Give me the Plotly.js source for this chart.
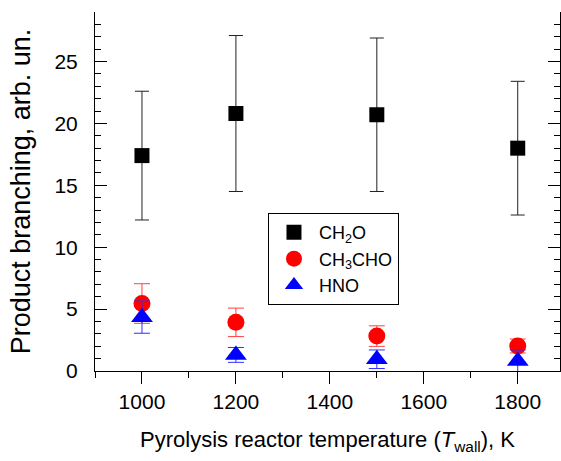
<!DOCTYPE html>
<html>
<head>
<meta charset="utf-8">
<script src="https://cdn.plot.ly/plotly-3.0.1.min.js"></script>
<style>
  html, body { margin: 0; padding: 0; background: #fff; }
  #chart { width: 561px; height: 461px; }
</style>
</head>
<body>
<div id="chart"></div>
<script>
// Data
const temperatures = [1000, 1200, 1500, 1800];

const ch2oValues   = [17.4, 20.8, 20.7, 18.0];
const ch2oErrors   = [5.2, 6.3, 6.2, 5.4];

const ch3choValues = [5.45, 3.93, 2.82, 2.02];
const ch3choErrors = [1.6, 1.15, 0.83, 0.56];

const hnoValues    = [4.35, 1.3, 0.95, 0.8];
const hnoErrors    = [1.3, 0.6, 0.75, 0.9];

const xTickValues  = [1000, 1200, 1400, 1600, 1800];
const yTickValues  = [0, 5, 10, 15, 20, 25];

const FONT = '"Liberation Sans", Arial, Helvetica, sans-serif';

const traces = [
  {
    x: temperatures, y: ch2oValues, type: 'scatter', mode: 'markers',
    name: 'CH<sub>2</sub>O', legendgroup: 'a',
    marker: { symbol: 'square', size: 15, color: '#000000' },
    error_y: { type: 'data', array: ch2oErrors, visible: true, color: '#222222', thickness: 1, width: 7 }
  },
  {
    x: temperatures, y: ch3choValues, type: 'scatter', mode: 'markers',
    name: 'CH<sub>3</sub>CHO', legendgroup: 'b',
    marker: { symbol: 'circle', size: 17, color: '#ff0000' },
    error_y: { type: 'data', array: ch3choErrors, visible: true, color: '#ff4040', thickness: 1, width: 8 }
  },
  {
    x: temperatures, y: hnoValues, type: 'scatter', mode: 'markers',
    name: 'HNO', legendgroup: 'c',
    marker: { symbol: 'triangle-up', size: 19, color: '#0000ff' },
    error_y: { type: 'data', array: hnoErrors, visible: true, color: '#3030ff', thickness: 1, width: 8 }
  }
];

const layout = {
  width: 561, height: 461,
  margin: { l: 95, r: 1, t: 12, b: 90 },
  paper_bgcolor: '#ffffff', plot_bgcolor: '#ffffff',
  font: { family: FONT, color: '#000000', size: 21 },
  showlegend: true,
  legend: {
    x: 0.372, y: 0.44, xanchor: 'left', yanchor: 'top',
    bordercolor: '#000000', borderwidth: 1, bgcolor: '#ffffff',
    font: { family: FONT, size: 18, color: '#000000' },
    traceorder: 'grouped', tracegroupgap: 0, itemwidth: 40
  },
  xaxis: {
    range: [900, 1890], tickvals: xTickValues, ticks: 'outside', ticklen: 12, tickwidth: 1,
    tickcolor: '#000', showline: true, linecolor: '#000', linewidth: 1, mirror: false,
    showgrid: false, zeroline: false, ticklabelstandoff: 0,
    tickfont: { family: FONT, size: 21 },
    minor: { dtick: 100, tick0: 900, ticks: 'outside', ticklen: 6, tickcolor: '#000', tickwidth: 1, showgrid: false },
    title: { text: 'Pyrolysis reactor temperature (<i>T</i><sub>wall</sub>), K', font: { family: FONT, size: 22 }, standoff: 19 }
  },
  xaxis2: {
    overlaying: 'x', anchor: 'y', side: 'top', range: [900, 1890], tickvals: xTickValues,
    ticks: 'inside', ticklen: 12, tickwidth: 1, tickcolor: '#000', showline: true, linecolor: '#000',
    linewidth: 1, showticklabels: false, showgrid: false, zeroline: false,
    minor: { dtick: 100, tick0: 900, ticks: 'inside', ticklen: 6, tickcolor: '#000', tickwidth: 1, showgrid: false }
  },
  yaxis: {
    range: [0, 29], tickvals: yTickValues, ticks: 'inside', ticklen: 12, tickwidth: 1, tickcolor: '#000',
    showline: true, linecolor: '#000', linewidth: 1, mirror: 'ticks',
    showgrid: false, zeroline: false, ticklabelstandoff: 12,
    tickfont: { family: FONT, size: 21 },
    minor: { dtick: 1, tick0: 0, ticks: 'inside', ticklen: 6, tickcolor: '#000', tickwidth: 1, showgrid: false },
    title: { text: 'Product branching, arb. un.', font: { family: FONT, size: 27 }, standoff: 15 }
  }
};

Plotly.newPlot('chart', traces, layout, { staticPlot: true, displayModeBar: false });
</script>
</body>
</html>
